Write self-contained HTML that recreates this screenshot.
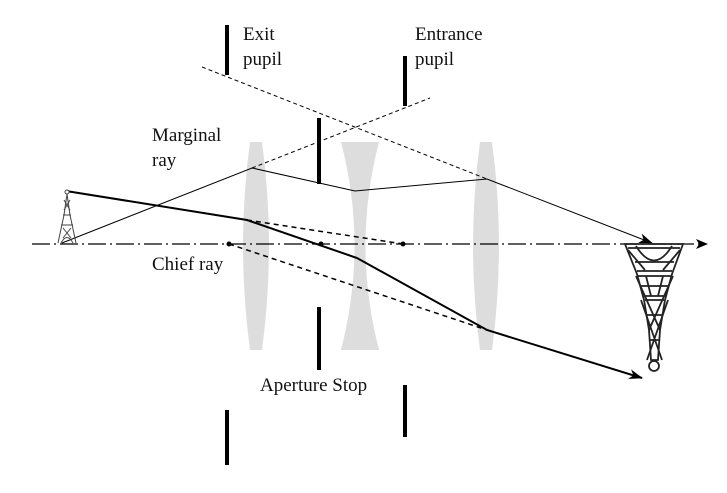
<!DOCTYPE html>
<html><head><style>
body{margin:0;background:#fff;}
text{font-family:"Liberation Serif",serif;font-size:19px;fill:#111;}
</style></head><body>
<svg width="727" height="488" viewBox="0 0 727 488" xmlns="http://www.w3.org/2000/svg">
<defs>
<marker id="ah" markerWidth="14" markerHeight="10" refX="13" refY="5" orient="auto" markerUnits="userSpaceOnUse">
<path d="M0,0 L14,5 L0,10 L4,5 z" fill="#000"/></marker>
</defs>
<path d="M250,142 Q236,245 250,350 L262,350 Q276,245 262,142 Z" fill="#ddd"/>
<path d="M341,142 L379,142 Q352,245 379,350 L341,350 Q368,245 341,142 Z" fill="#ddd"/>
<path d="M480,142 Q466,245 480,350 L492,350 Q506,245 492,142 Z" fill="#ddd"/>
<line x1="32" y1="244" x2="700" y2="244" stroke="#000" stroke-width="1.2" stroke-dasharray="18,4,2,4"/>
<path d="M696,239 L708,244 L696,249 L699,244 z" fill="#000"/>
<g stroke="#000" stroke-width="4">
<line x1="227" y1="25" x2="227" y2="75"/>
<line x1="227" y1="410" x2="227" y2="465"/>
<line x1="405" y1="56" x2="405" y2="106"/>
<line x1="405" y1="385" x2="405" y2="437"/>
<line x1="319" y1="118" x2="319" y2="184"/>
<line x1="319" y1="307" x2="319" y2="370"/>
</g>
<line x1="202" y1="67" x2="487" y2="179" stroke="#000" stroke-width="1" stroke-dasharray="4,3"/>
<line x1="252" y1="168" x2="430" y2="98" stroke="#000" stroke-width="1" stroke-dasharray="4,3"/>
<polyline points="62,243 252,168 355,191 487,179 652,243" fill="none" stroke="#000" stroke-width="1" marker-end="url(#ah)"/>
<polyline points="66,191 247,220 357,258 487,330 642,378" fill="none" stroke="#000" stroke-width="2" marker-end="url(#ah)"/>
<line x1="247" y1="220" x2="403" y2="244" stroke="#000" stroke-width="1.5" stroke-dasharray="5,4"/>
<line x1="229" y1="244" x2="487" y2="330" stroke="#000" stroke-width="1.5" stroke-dasharray="5,4"/>
<circle cx="229" cy="244" r="2.5"/><circle cx="321" cy="244" r="2.5"/><circle cx="403" cy="244" r="2.5"/>
<g stroke="#444" stroke-width="1" fill="none">
<circle cx="67" cy="192" r="2" fill="#fff"/>
<path d="M67,194 L64,215 L58,243 M67,194 L70,215 L76,243 M61,225 L73,225 M63,215 L71,215 M61,243 Q67,232 73,243"/>
<path d="M64,200 L70,210 M70,200 L64,210 M63,228 L71,238 M71,228 L63,238"/>
</g>
<g stroke="#222" stroke-width="1.8" fill="none">
<path d="M625,244 L683,244 L672,274 L665,300 L660,330 L658,360 L651,360 L649,330 L644,300 L637,274 Z"/>
<path d="M636,246 Q654,275 672,246" />
<path d="M637,271 L672,271 M638,276 L671,276 M644,296 L665,296 M645,300 L664,300"/>
<path d="M646,276 L651,296 M663,276 L658,296"/>
<path d="M628,248 L680,248 M635,262 L674,262 M641,286 L668,286 M646,315 L663,315 M649,340 L660,340"/>
<path d="M641,300 L662,360 M668,300 L647,360 M636,276 L660,330 M673,276 L649,330 M628,250 L645,270 M680,250 L663,270"/>
<circle cx="654" cy="366" r="5" fill="#fff"/>
</g>
<text x="243" y="40">Exit</text>
<text x="243" y="65">pupil</text>
<text x="415" y="40">Entrance</text>
<text x="415" y="65">pupil</text>
<text x="152" y="141">Marginal</text>
<text x="152" y="166">ray</text>
<text x="152" y="270">Chief ray</text>
<text x="260" y="391">Aperture Stop</text>
</svg>
</body></html>
